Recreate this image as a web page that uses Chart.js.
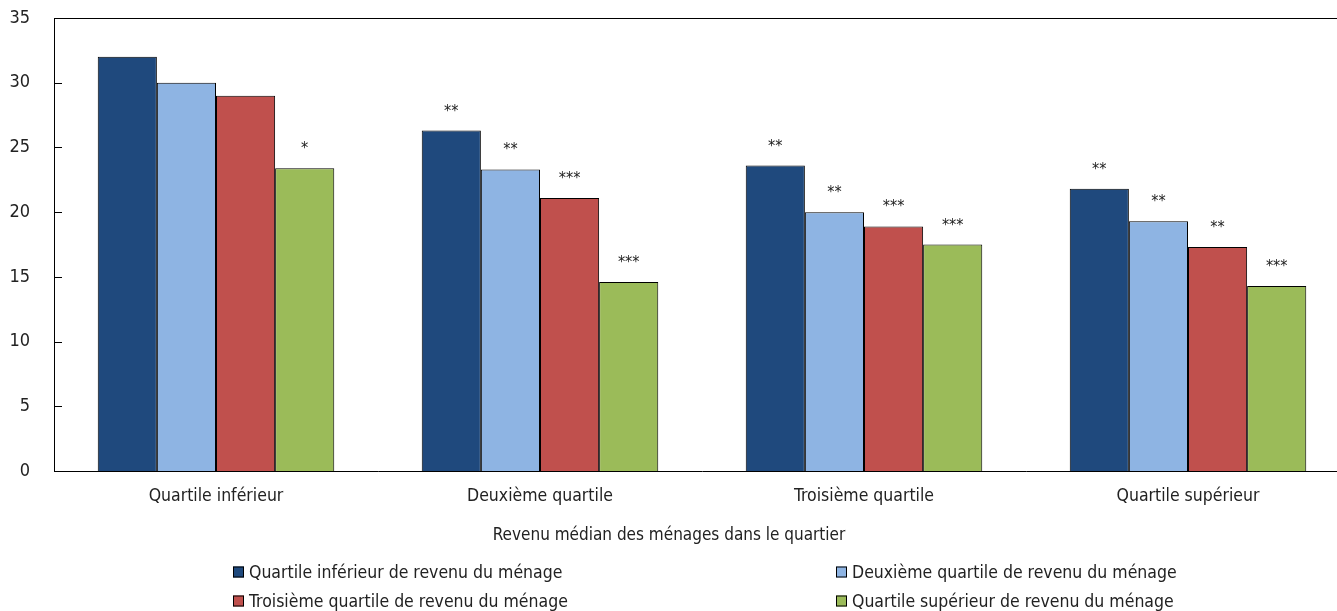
<!DOCTYPE html>
<html lang="fr">
<head>
<meta charset="utf-8">
<script src="https://cdn.jsdelivr.net/npm/chart.js@4.4.1/dist/chart.umd.min.js"></script>
<style>
  html, body { margin: 0; padding: 0; background: #fff; overflow: hidden; }
  #wrap { position: relative; width: 1350px; height: 611px; }
</style>
</head>
<body>
<div id="wrap"><canvas id="myChart" width="1350" height="611"></canvas></div>
<script>
const FONT = '"DejaVu Sans Condensed", "Liberation Sans", sans-serif';

const categories = ['Quartile inférieur', 'Deuxième quartile', 'Troisième quartile', 'Quartile supérieur'];
const seriesNames = [
  'Quartile inférieur de revenu du ménage',
  'Deuxième quartile de revenu du ménage',
  'Troisième quartile de revenu du ménage',
  'Quartile supérieur de revenu du ménage',
];
const lowestIncome = [32.0, 26.3, 23.6, 21.8];
const secondIncome = [30.0, 23.3, 20.0, 19.3];
const thirdIncome = [29.0, 21.1, 18.9, 17.3];
const highestIncome = [23.4, 14.6, 17.5, 14.3];
// significance markers shown above each bar
const lowestStars = ['', '**', '**', '**'];
const secondStars = ['', '**', '**', '**'];
const thirdStars = ['', '***', '***', '**'];
const highestStars = ['*', '***', '***', '***'];
const yTicks = [0, 5, 10, 15, 20, 25, 30, 35];
const xTitle = 'Revenu médian des ménages dans le quartier';

const colors = ['#1f497d', '#8eb4e3', '#c0504d', '#9bbb59'];
const values = [lowestIncome, secondIncome, thirdIncome, highestIncome];
const stars = [lowestStars, secondStars, thirdStars, highestStars];

// stars above bars, top frame line, inward y ticks, axis title and legend
const extras = {
  id: 'extras',
  afterDatasetsDraw(chart) {
    const c = chart.ctx;
    const area = chart.chartArea;
    const y = chart.scales.y;
    c.save();
    c.fillStyle = '#222';
    c.font = '16px ' + FONT;
    c.textAlign = 'center';
    c.textBaseline = 'alphabetic';
    chart.data.datasets.forEach((ds, i) => {
      chart.getDatasetMeta(i).data.forEach((bar, j) => {
        const s = stars[i][j];
        if (s) c.fillText(s, bar.x, bar.y - 15);
      });
    });

    c.strokeStyle = '#000';
    c.lineWidth = 1;
    c.beginPath();
    c.moveTo(area.left, area.top + 0.5);
    c.lineTo(area.right, area.top + 0.5);
    yTicks.forEach((t) => {
      const py = Math.round(y.getPixelForValue(t)) + 0.5;
      c.moveTo(area.left, py);
      c.lineTo(area.left + 8, py);
    });
    c.stroke();

    c.fillStyle = '#222';
    c.font = '17px ' + FONT;
    c.textBaseline = 'middle';
    c.fillText(xTitle, 669, 536);

    // two-column legend
    const cols = [233, 836];
    const rows = [572, 601];
    c.font = '17.5px ' + FONT;
    c.textAlign = 'left';
    seriesNames.forEach((name, i) => {
      const lx = cols[i % 2];
      const ly = rows[Math.floor(i / 2)];
      c.fillStyle = colors[i];
      c.fillRect(lx, ly - 5.5, 11, 11);
      c.strokeStyle = '#000';
      c.strokeRect(lx + 0.5, ly - 5, 10, 10);
      c.fillStyle = '#222';
      c.fillText(name, lx + 16, ly + 1);
    });
    c.restore();
  },
};

new Chart(document.getElementById('myChart'), {
  type: 'bar',
  data: {
    labels: categories,
    datasets: seriesNames.map((name, i) => ({
      label: name,
      data: values[i],
      backgroundColor: colors[i],
      borderColor: '#000',
      borderWidth: 1,
      categoryPercentage: 0.73,
      barPercentage: 1.0,
    })),
  },
  options: {
    responsive: false,
    animation: false,
    layout: { padding: { top: 18, right: 0, bottom: 0, left: 0 } },
    plugins: {
      legend: { display: false },
      tooltip: { enabled: false },
    },
    scales: {
      x: {
        grid: { display: false },
        border: { display: true, color: '#000', width: 1 },
        ticks: { color: '#222', font: { family: FONT, size: 17.5 }, padding: 7, maxRotation: 0 },
        afterFit: (scale) => { scale.height = 140; },
      },
      y: {
        min: 0,
        max: 35,
        afterBuildTicks: (scale) => { scale.ticks = yTicks.map((v) => ({ value: v })); },
        grid: { display: false },
        border: { display: true, color: '#000', width: 1 },
        ticks: { color: '#222', font: { family: FONT, size: 18 }, padding: 16 },
        afterFit: (scale) => {
          scale.width = 54;
          scale.paddingTop = 0;
          scale.paddingBottom = 0;
        },
      },
    },
  },
  plugins: [extras],
});
</script>
</body>
</html>
